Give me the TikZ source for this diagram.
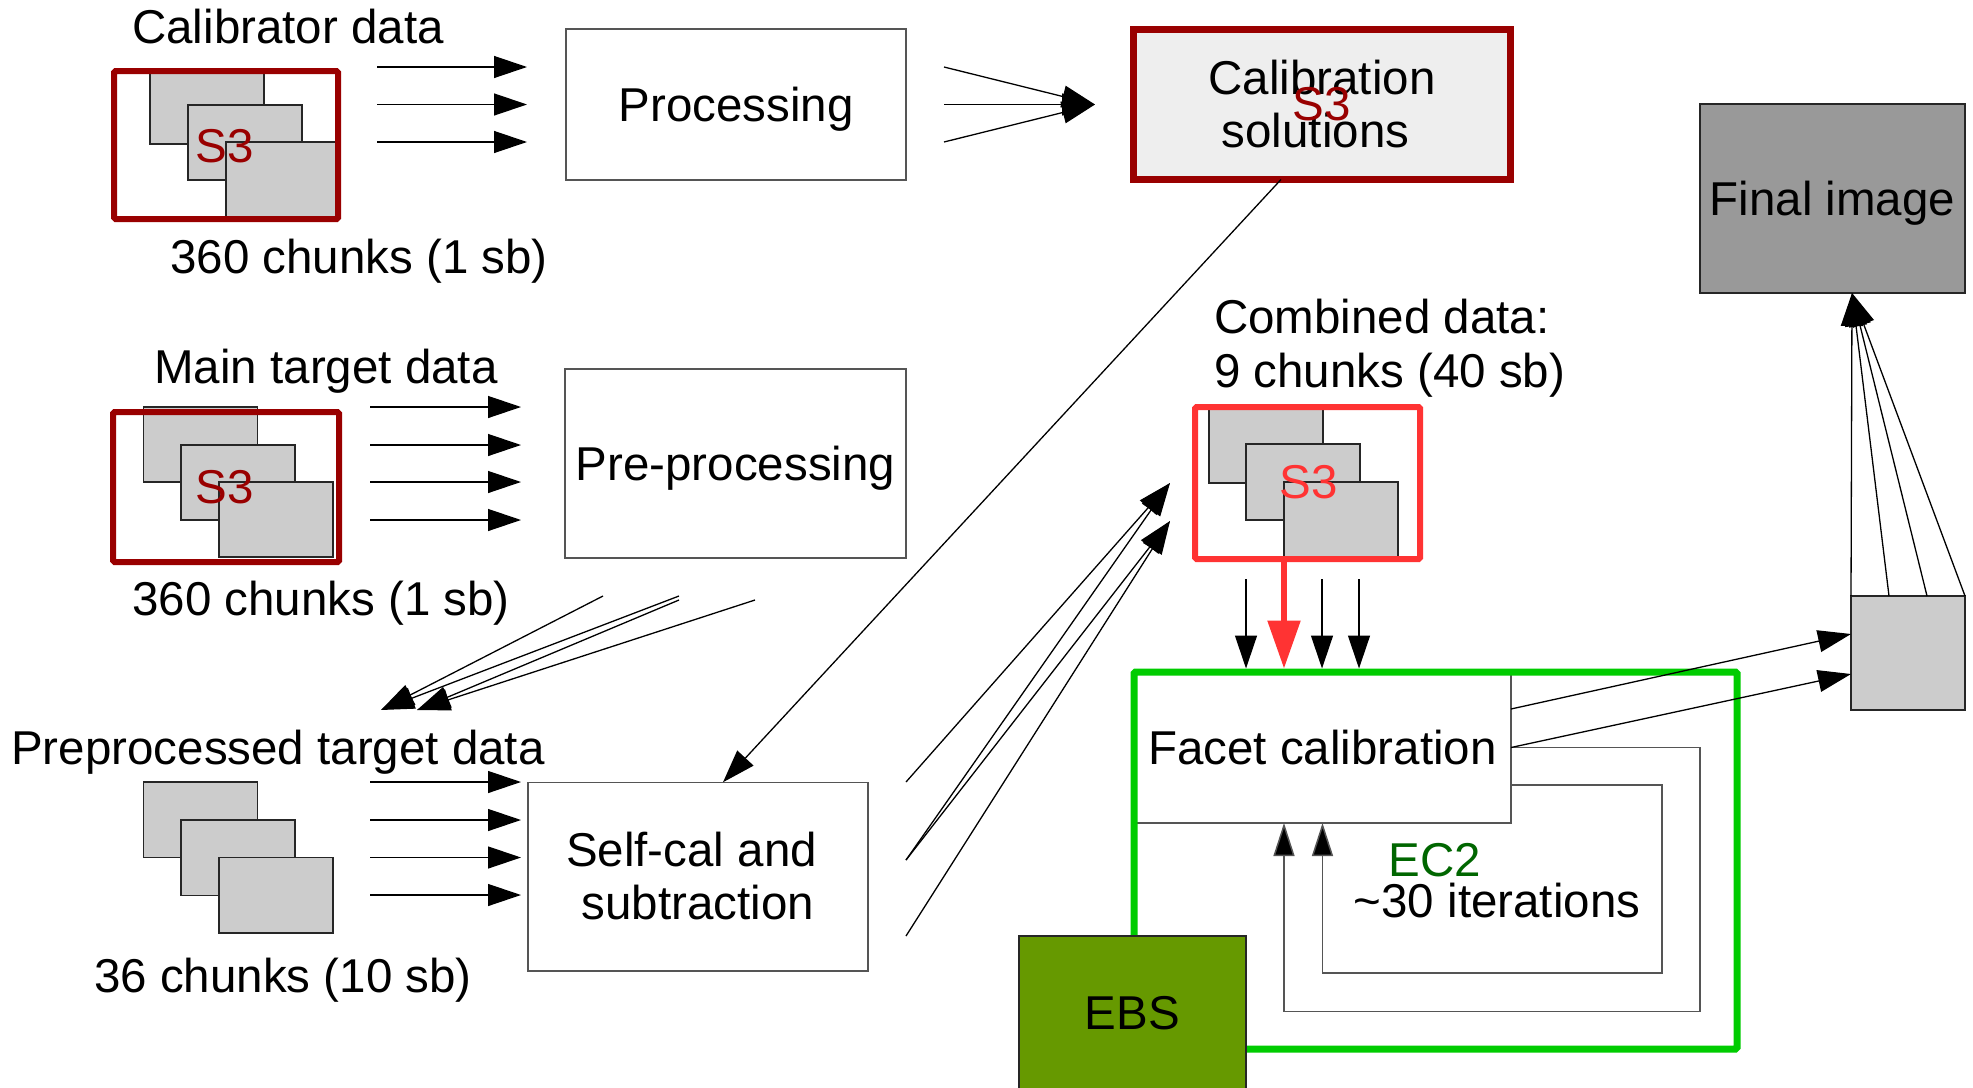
\documentclass[tikz,border=0pt]{standalone}
\usepackage{fontspec}
\setmainfont{Liberation Sans}
\usetikzlibrary{arrows.meta,calc}
\definecolor{s3dark}{HTML}{990000}
\definecolor{s3bright}{HTML}{FF3333}
\definecolor{ec2green}{HTML}{00CC00}
\definecolor{ec2text}{HTML}{006600}
\definecolor{ebsgreen}{HTML}{669900}
\definecolor{chunkgray}{HTML}{CCCCCC}
\definecolor{finalgray}{HTML}{999999}
\definecolor{solfill}{HTML}{EEEEEE}
\definecolor{edgegray}{HTML}{555555}

\begin{document}
\begin{tikzpicture}[x=1pt,y=-1pt,
  every node/.style={inner sep=0pt, outer sep=0pt, font=\fontsize{47.5}{53}\selectfont},
  stage/.style={draw=edgegray, line width=1.5pt, fill=white, align=center},
  oneline/.style={text depth=0pt},
  chunk/.style={draw=black!85, line width=1.2pt, fill=chunkgray, minimum width=114pt, minimum height=75pt, anchor=north west},
  store/.style={line width=6pt, rounded corners=1.5pt},
  flow/.style={line width=1.3pt, -{Triangle[length=33pt,width=22pt]}},
  loopline/.style={draw=edgegray, line width=1.5pt, -{Triangle[length=33pt,width=21pt,fill=black]}},
  label/.style={anchor=base}
]
\useasboundingbox (0,0) rectangle (1973,1087);
\fill[white] (0,0) rectangle (1973,1087);

% ---------- calibrator data ----------
\node[label] (callbl) at (288,43) {Calibrator data};
\node[chunk] (calc1) at (150,69) {};
\node[chunk] (calc2) at (188,105) {};
\node[chunk] (calc3) at (226,142) {};
\node[store, draw=s3dark, minimum width=224pt, minimum height=148pt] (calstore) at (226,145) {};
\node[text=s3dark] (cals3) at (225,146) {S3};
\node[label] (calcount) at (359,273) {360 chunks (1 sb)};

\node[stage, oneline, minimum width=340pt, minimum height=151pt] (proc) at (736,104.5) {Processing};
\foreach \dy in {-37.5,0,37.5}
  \draw[flow] ($(proc.west)+(-189,\dy)$) -- ($(proc.west)+(-39,\dy)$);

\node[stage, draw=s3dark, line width=7pt, fill=solfill, minimum width=377pt, minimum height=150pt] (calsol) at (1322,104.5) {Calibration\\solutions\hspace*{13pt}};
\node[text=s3dark] (sols3) at (1322,104) {S3};
\foreach \dy in {-37.5,0,37.5}
  \draw[flow] ($(proc.east)+(38,\dy)$) -- ($(calsol.west)+(-38.5,0)$);

% ---------- main target data ----------
\node[label] (mainlbl) at (326,383) {Main target data};
\node[chunk] (mainc1) at (143.5,407) {};
\node[chunk] (mainc2) at (181,445) {};
\node[chunk] (mainc3) at (219,482) {};
\node[store, draw=s3dark, minimum width=226pt, minimum height=150pt] (mainstore) at (226,487) {};
\node[text=s3dark] (mains3) at (225,487) {S3};
\node[label] (maincount) at (321,615) {360 chunks (1 sb)};

\node[stage, oneline, minimum width=341pt, minimum height=189pt] (pre) at (735.5,463.5) {Pre-processing};
\foreach \dy in {-56.5,-18.5,18.5,56.5}
  \draw[flow] ($(pre.west)+(-195,\dy)$) -- ($(pre.west)+(-44,\dy)$);

% ---------- preprocessed target data ----------
\node[label] (ppLbl) at (278,764) {Preprocessed target data};
\node[chunk, minimum height=75.5pt] (ppc1) at (143.5,782) {};
\node[chunk, minimum height=75.5pt] (ppc2) at (181,820) {};
\node[chunk, minimum height=75.5pt] (ppc3) at (219,857.5) {};
\node[label] (ppcount) at (283,992) {36 chunks (10 sb)};

\coordinate (pptipA) at (381,710);
\coordinate (pptipB) at (417,710);
\draw[flow] ($(pre.south)+(-132.5,38)$) -- (pptipA);
\draw[flow] ($(pre.south)+(-56.5,38)$) -- (pptipA);
\draw[flow] ($(pre.south)+(-56.5,42)$) -- (pptipB);
\draw[flow] ($(pre.south)+(19.5,42)$) -- (pptipB);

\node[stage, minimum width=340pt, minimum height=188.5pt] (selfcal) at (698,876.5) {Self-cal and\hspace*{13pt}\\subtraction};
\foreach \dy in {-94.5,-56.5,-19,18.5}
  \draw[flow] ($(selfcal.west)+(-158,\dy)$) -- ($(selfcal.west)+(-7,\dy)$);

\draw[flow] ($(calsol.south)+(-41,0)$) -- ($(selfcal.north)+(25,0)$);

% ---------- combined data ----------
\node[anchor=base west] (comblbl) at (1214,333) {Combined data:};
\node[anchor=base west] (combcount) at (1214,387) {9 chunks (40 sb)};
\node[chunk, minimum height=76pt] (combc1) at (1209,407) {};
\node[chunk, minimum height=76pt] (combc2) at (1246,444) {};
\node[chunk, minimum height=76pt] (combc3) at (1284,482) {};
\node[store, draw=s3bright, minimum width=225pt, minimum height=152pt] (comb) at (1307.5,483) {};
\node[text=s3bright] (combs3) at (1309,482) {S3};

\draw[flow] ($(selfcal.east)+(38,-94.5)$) -- ($(comb.west)+(-25,0)$);
\draw[flow] ($(selfcal.east)+(38,-16.5)$) -- ($(comb.west)+(-25,0)$);
\draw[flow] ($(selfcal.east)+(38,-16.5)$) -- ($(comb.west)+(-25,38)$);
\draw[flow] ($(selfcal.east)+(38,59.5)$) -- ($(comb.west)+(-25,38)$);

% ---------- facet calibration on EC2 ----------
\node[stage, oneline, minimum width=377pt, minimum height=151pt] (facet) at (1322.5,747.5) {Facet calibration};
\node[draw=ec2green, line width=7pt, rounded corners=1.5pt, minimum width=603pt, minimum height=377pt] (ec2) at (1435.5,860.5) {};

\draw[loopline] ($(facet.east)+(0,37.5)$) -- ++(151,0) -- ++(0,188) -| (facet.south);
\draw[loopline] (facet.east) -- ++(189,0) -- ++(0,264) -| ($(facet.south)+(-38.5,0)$);

\node[label, text=ec2text] (ec2lbl) at (1435,876) {EC2};
\node[label] (iterlbl) at (1497,917) {\textasciitilde 30 iterations};

\node[oneline, draw=black!85, line width=1.2pt, fill=ebsgreen, minimum width=227pt, minimum height=154pt] (ebs) at (1132.5,1013) {EBS};

\foreach \dx in {-189.5,-113.5,-76.5}
  \draw[flow] ($(comb.south)+(\dx+128,20)$) -- ($(ec2.north)+(\dx,-3.5)$);
\draw[draw=s3bright, line width=5.5pt, -{Triangle[length=48pt,width=32pt]}] (comb.south -| 1284,0) -- ($(ec2.north)+(-151.5,-3.5)$);

% ---------- output ----------
\node[draw=black!85, line width=1.2pt, fill=chunkgray, minimum width=114pt, minimum height=114pt] (out) at (1908,653) {};
\draw[flow] ($(facet.east)+(0,-38.5)$) -- ($(out.west)+(0,-19)$);
\draw[flow] (facet.east) -- ($(out.west)+(0,21)$);

\node[stage, oneline, draw=black!85, fill=finalgray, minimum width=265pt, minimum height=189pt] (final) at (1832.5,198.5) {Final image};
\draw[flow] (out.north west) -- ($(final.south)+(19.5,0)$);
\draw[flow] ($(out.north west)+(38,0)$) -- ($(final.south)+(19.5,0)$);
\draw[flow] ($(out.north west)+(76,0)$) -- ($(final.south)+(19.5,0)$);
\draw[flow] (out.north east) -- ($(final.south)+(19.5,0)$);
\end{tikzpicture}
\end{document}
